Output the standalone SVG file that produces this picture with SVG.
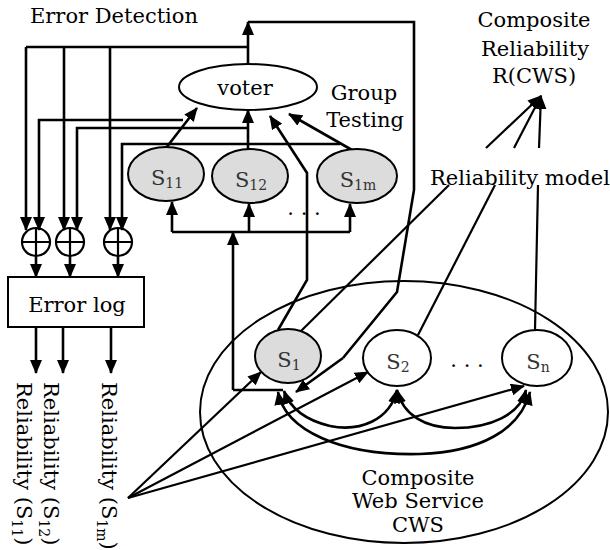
<svg xmlns="http://www.w3.org/2000/svg" width="610" height="550" viewBox="0 0 610 550">
  <style>
    text { font-family: "DejaVu Serif", "Liberation Serif", serif; font-size: 21px; fill: #000; }
    .sub { font-size: 14px; }
    .slabel { fill: #333; }
    .node { stroke: #000; stroke-width: 2; }
    .gray { fill: #dcdcdc; }
    .white { fill: #fff; }
    .wire { fill: none; stroke: #000; stroke-width: 2.6; }
    .thin { fill: none; stroke: #000; stroke-width: 2.2; }
    .arr { marker-end: url(#ah); }
  </style>
  <defs>
    <marker id="ah" markerUnits="userSpaceOnUse" markerWidth="14" markerHeight="12" refX="13" refY="6" orient="auto">
      <path d="M0,0 L14,6 L0,12 z" fill="#000"/>
    </marker>
  </defs>

  <!-- outer composite web service boundary -->
  <g id="cws">
    <ellipse cx="404" cy="412" rx="204" ry="131" fill="none" stroke="#000" stroke-width="2"/>
    <text x="418" y="485" text-anchor="middle">Composite</text>
    <text x="418" y="508" text-anchor="middle">Web Service</text>
    <text x="418" y="532" text-anchor="middle">CWS</text>
  </g>

  <!-- connectors -->
  <g id="connectors">
    <!-- voter output -->
    <path class="wire arr" d="M248,64 V22"/>
    <path class="wire" d="M248,22 H414 V190 L397,292 L343,358"/>
    <path class="wire arr" d="M343,358 L296,392"/>
    <path class="wire" d="M248,47 H26"/>
    <path class="wire arr" d="M26,47 V230"/>
    <path class="wire arr" d="M64,47 V230"/>
    <path class="wire arr" d="M110,47 V230"/>

    <!-- replica outputs to the comparators -->
    <path class="wire arr" d="M183,120 H39 V230"/>
    <path class="wire arr" d="M248,128 H77 V230"/>
    <path class="wire arr" d="M340,144 H122 V230"/>

    <!-- replica outputs to the voter -->
    <path class="wire arr" d="M166,148 L197,108"/>
    <path class="wire arr" d="M248,149 V110"/>
    <path class="wire arr" d="M352,150 L289,114"/>
    <path class="wire arr" d="M278,330 L307,280 V173 L270,116"/>

    <!-- comparators to error log -->
    <path class="wire arr" d="M36,256 V277"/>
    <path class="wire arr" d="M70,256 V277"/>
    <path class="wire arr" d="M118,256 V277"/>

    <!-- error log outputs -->
    <path class="wire arr" d="M36,327 V373"/>
    <path class="wire arr" d="M63,327 V373"/>
    <path class="wire arr" d="M111,327 V373"/>

    <!-- S1 feeding the replica group -->
    <path class="wire" d="M283,390 H233"/>
    <path class="wire arr" d="M233,390 V232"/>
    <path class="wire" d="M172,232 H350"/>
    <path class="wire arr" d="M172,232 V202"/>
    <path class="wire arr" d="M249,232 V204"/>
    <path class="wire arr" d="M350,232 V204"/>

    <!-- reliability model lines -->
    <path class="thin" d="M301,331 L449,185"/>
    <path class="thin arr" d="M486,148 L541,96"/>
    <path class="thin" d="M418,335 L495,185"/>
    <path class="thin arr" d="M514,148 L541,96"/>
    <path class="thin" d="M535,330 L538,185"/>
    <path class="thin arr" d="M539,148 L541,96"/>

    <!-- external requests -->
    <path class="thin arr" d="M128,498 L261,372"/>
    <path class="thin arr" d="M128,498 L368,372"/>
    <path class="thin arr" d="M128,498 L524,386"/>

    <!-- interactions between services -->
    <path class="wire arr" d="M330,426 C305,420 290,408 284,391"/>
    <path class="wire arr" d="M330,426 C360,432 390,420 397,390"/>
    <path class="wire arr" d="M455,428 C425,428 403,415 397,390"/>
    <path class="wire arr" d="M455,428 C490,428 520,415 526,390"/>
    <path class="wire arr" d="M420,454 C340,456 285,430 278,392"/>
    <path class="wire arr" d="M420,454 C480,452 520,430 530,392"/>
  </g>

  <!-- title -->
  <text x="30" y="23">Error Detection</text>

  <g id="voter">
    <ellipse class="node white" cx="248" cy="87" rx="69" ry="23"/>
    <text x="245" y="95" text-anchor="middle">voter</text>
  </g>

  <g id="group-testing">
    <text x="364" y="100" text-anchor="middle">Group</text>
    <text x="365" y="127" text-anchor="middle">Testing</text>
  </g>

  <g id="s11">
    <ellipse class="node gray" cx="166" cy="174" rx="38" ry="27"/>
    <text class="slabel" x="167" y="185" text-anchor="middle">S<tspan class="sub" dy="3">11</tspan></text>
  </g>
  <g id="s12">
    <ellipse class="node gray" cx="250" cy="176" rx="38" ry="27"/>
    <text class="slabel" x="251" y="187" text-anchor="middle">S<tspan class="sub" dy="3">12</tspan></text>
  </g>
  <g id="s1m">
    <ellipse class="node gray" cx="357" cy="176" rx="40" ry="27"/>
    <text class="slabel" x="358" y="187" text-anchor="middle">S<tspan class="sub" dy="3">1m</tspan></text>
  </g>
  <text x="304" y="215" text-anchor="middle">. . .</text>

  <g id="comparators" fill="none" stroke="#000" stroke-width="2.2">
    <circle cx="36" cy="242" r="14"/>
    <path d="M22,242 H50 M36,228 V256"/>
    <circle cx="70" cy="242" r="14"/>
    <path d="M56,242 H84 M70,228 V256"/>
    <circle cx="118" cy="242" r="14"/>
    <path d="M104,242 H132 M118,228 V256"/>
  </g>

  <g id="error-log">
    <rect x="8" y="277" width="136" height="50" fill="#fff" stroke="#000" stroke-width="2"/>
    <text x="77" y="312" text-anchor="middle">Error log</text>
  </g>

  <g id="outputs">
    <text transform="translate(17,382) rotate(90)">Reliability (S<tspan class="sub" dy="5">11</tspan><tspan dy="-5">)</tspan></text>
    <text transform="translate(44,382) rotate(90)">Reliability (S<tspan class="sub" dy="5">12</tspan><tspan dy="-5">)</tspan></text>
    <text transform="translate(102,382) rotate(90)">Reliability (S<tspan class="sub" dy="5">1m</tspan><tspan dy="-5">)</tspan></text>
  </g>

  <g id="s1">
    <ellipse class="node gray" cx="288" cy="356" rx="33" ry="27"/>
    <text class="slabel" x="289" y="367" text-anchor="middle">S<tspan class="sub" dy="3">1</tspan></text>
  </g>
  <g id="s2">
    <ellipse class="node white" cx="397" cy="358" rx="34" ry="28"/>
    <text class="slabel" x="398" y="369" text-anchor="middle">S<tspan class="sub" dy="3">2</tspan></text>
  </g>
  <g id="sn">
    <ellipse class="node white" cx="537" cy="358" rx="35" ry="28"/>
    <text class="slabel" x="538" y="369" text-anchor="middle">S<tspan class="sub" dy="3">n</tspan></text>
  </g>
  <text x="467" y="367" text-anchor="middle">. . .</text>

  <g id="reliability">
    <text x="534" y="27" text-anchor="middle">Composite</text>
    <text x="535" y="56" text-anchor="middle">Reliability</text>
    <text x="534" y="83" text-anchor="middle">R(CWS)</text>
    <text x="430" y="185">Reliability model</text>
  </g>
</svg>
